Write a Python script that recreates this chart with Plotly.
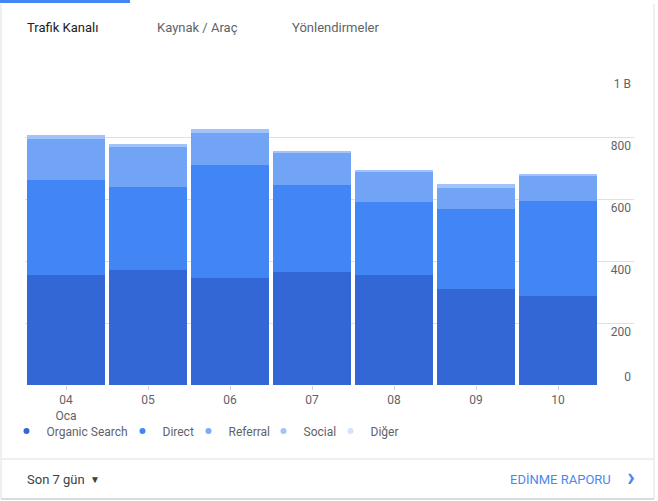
import plotly.graph_objects as go

# Günlük trafik (bin oturum), 04-10 Ocak
days = ["04", "05", "06", "07", "08", "09", "10"]
day_labels = ["04<br>Oca", "05", "06", "07", "08", "09", "10"]
organic_search = [356, 372, 344, 363, 356, 311, 288]
direct = [306, 268, 367, 283, 235, 258, 306]
referral = [132, 130, 103, 104, 99, 68, 81]
social = [13, 6, 13, 2, 5, 12, 7]
diger = [0, 0, 0, 0, 0, 0, 0]

y_ticks = [0, 200, 400, 600, 800, 1000]
y_tick_labels = ["", "200", "400", "600", "800", "1 B"]

series = [
    ("Organic Search", organic_search, "#3367d6", "#3367d6"),
    ("Direct", direct, "#4285f4", "#4285f4"),
    ("Referral", referral, "#72a4f6", "#7baaf7"),
    ("Social", social, "#a1c2fa", "#a1c2fa"),
    ("Diğer", diger, "#d2e3fc", "#d2e3fc"),
]
legend_left = [6.5, 122.5, 188.5, 263.5, 330.5]  # px, one small legend per channel

W, H = 658, 501
L, R, T, B = 25, 634, 75, 385  # plot area in pixels


def px(x):
    return (x - L) / (R - L)


def py(y):
    return (B - y) / (B - T)


grey = "#5f6368"
font = "Roboto"

fig = go.Figure()
legends = {}
for i, (name, values, color, dot) in enumerate(series):
    fig.add_trace(go.Bar(x=days, y=values, name=name, marker_color=color,
                         marker_line_width=0, showlegend=False))
    key = "legend" if i == 0 else f"legend{i + 1}"
    # legend entry with a round dot
    fig.add_trace(go.Scatter(x=[None], y=[None], mode="markers", name=name,
                             legend=key,
                             marker=dict(color=dot, size=6, symbol="circle")))
    legends[key] = dict(orientation="h", x=px(legend_left[i]), y=py(431),
                        xanchor="left", yanchor="middle",
                        font=dict(size=12, color=grey), itemwidth=30,
                        bgcolor="rgba(0,0,0,0)")

# zero label sits above the baseline, on its own overlay axis
fig.add_trace(go.Scatter(x=[None], y=[None], yaxis="y2", showlegend=False))

annotations = [
    dict(text="Trafik Kanalı", x=px(25), y=py(27), font=dict(size=13, color="#202124")),
    dict(text="Kaynak / Araç", x=px(155), y=py(27), font=dict(size=13, color=grey)),
    dict(text="Yönlendirmeler", x=px(290), y=py(27), font=dict(size=13, color=grey)),
    dict(text="Son 7 gün", x=px(25), y=py(479), font=dict(size=13, color="#3c4043")),
    dict(text="▼", x=px(88), y=py(479), font=dict(size=10, color="#3c4043")),
    dict(text="EDİNME RAPORU", x=px(508), y=py(479), font=dict(size=13, color="#4a88ee")),
    dict(text="›", x=px(625), y=py(477), font=dict(size=26, color="#4a88ee", weight="bold")),
]
for a in annotations:
    a.update(xref="paper", yref="paper", xanchor="left", yanchor="middle",
             showarrow=False)

line = dict(color="#e0e0e0", width=1)
shapes = [
    # active tab underline
    dict(type="rect", x0=px(0), x1=px(130), y0=py(0), y1=py(3),
         fillcolor="#4285f4", line_width=0),
    # card edges
    dict(type="line", x0=px(1), x1=px(1), y0=py(4), y1=py(499), line=line),
    dict(type="line", x0=px(654), x1=px(654), y0=py(4), y1=py(499), line=line),
    dict(type="line", x0=px(1), x1=px(654), y0=py(499), y1=py(499),
         line=dict(color="#cfcfcf", width=1.5)),
    dict(type="line", x0=px(1), x1=px(654), y0=py(459), y1=py(459), line=line),
    # gap between grid and the label guides
    dict(type="rect", x0=px(598), x1=px(602), y0=py(70), y1=py(390),
         fillcolor="white", line_width=0, layer="between"),
]
for s in shapes:
    s.update(xref="paper", yref="paper")

fig.update_layout(
    width=W, height=H,
    margin=dict(l=L, r=W - R, t=T, b=H - B, autoexpand=False),
    paper_bgcolor="white", plot_bgcolor="white",
    font=dict(family=font, size=12, color=grey),
    barmode="stack", bargap=4 / 82,
    showlegend=True,
    annotations=annotations,
    shapes=shapes,
    **legends,
)
fig.update_xaxes(
    type="category", range=[-0.5, 6.5 + (R - 599) / 82],
    tickvals=days, ticktext=day_labels,
    ticks="outside", ticklen=4, tickcolor="#d0d0d0",
    showgrid=False, showline=False, zeroline=False,
    tickfont=dict(size=12, color=grey),
)
fig.update_yaxes(
    side="right", range=[0, 1000],
    tickvals=y_ticks, ticktext=y_tick_labels,
    ticklabelposition="inside bottom",
    showgrid=True, gridcolor="#e0e0e0", gridwidth=1,
    zeroline=False, showline=False, ticks="",
    tickfont=dict(size=12, color=grey),
)
fig.update_layout(yaxis2=dict(
    overlaying="y", side="right", range=[0, 1000],
    tickvals=[0], ticktext=["0"], ticklabelposition="inside top",
    showgrid=False, zeroline=False, showline=False, ticks="",
    tickfont=dict(size=12, color=grey),
))

fig.write_html("out.html", config={"displayModeBar": False},
               post_script="document.body.style.margin = '0';")
